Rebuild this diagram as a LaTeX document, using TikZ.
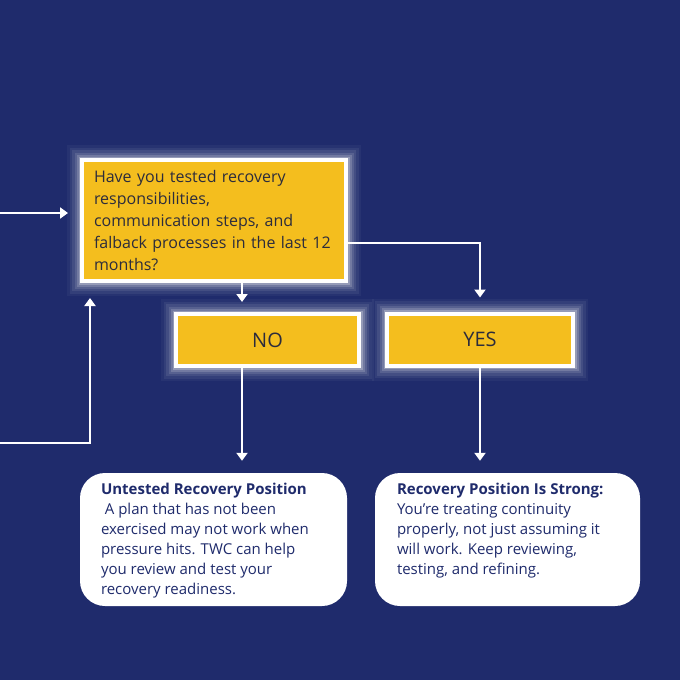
\documentclass[tikz,border=0pt]{standalone}
\usepackage{fontspec}
\setmainfont{Open Sans}
\usepackage{xcolor}
\usetikzlibrary{arrows.meta, positioning}

\definecolor{navybg}{HTML}{1F2B6C}
\definecolor{goldbox}{HTML}{F4BE1E}
\definecolor{inktext}{HTML}{2C2C3C}

\begin{document}
\begin{tikzpicture}[x=1pt, y=-1pt]
    % Styles
    \tikzset{
        glow/.style     = {preaction={draw=white, line width=30pt, opacity=0.04},
                           preaction={draw=white, line width=25pt, opacity=0.06},
                           preaction={draw=white, line width=20pt, opacity=0.08},
                           preaction={draw=white, line width=15pt, opacity=0.11},
                           preaction={draw=white, line width=11pt, opacity=0.16},
                           preaction={draw=white, line width=7pt, opacity=0.25}},
        question/.style = {rectangle, draw=white, line width=4pt, fill=goldbox, glow, text=inktext,
                           minimum width=264pt, minimum height=121pt, text width=240pt, align=left,
                           font=\fontsize{16}{22}\selectfont},
        answer/.style   = {rectangle, draw=white, line width=4pt, fill=goldbox, glow, text=inktext,
                           minimum height=52pt, font=\fontsize{20}{22}\selectfont},
        outcome/.style  = {rectangle, fill=white, rounded corners=25pt, text=navybg, inner sep=0pt,
                           minimum height=133pt, font=\fontsize{15}{20}\selectfont},
        line/.style     = {draw=white, line width=2.4pt, -{Triangle[length=8pt, width=11pt]}}
    }

    % Background
    \useasboundingbox (0,0) rectangle (680,680);
    \fill[navybg] (0,0) rectangle (680,680);

    % Question and answers
    \node [question] (q) at (214,220.5) {Have you tested recovery\\ responsibilities,\\ communication steps, and\\ falback processes in the last 12\\ months?};
    \node [answer, minimum width=183pt] (no) at (267.5,340) {NO};
    \node [answer, minimum width=186pt] (yes) at (480,339.5) {YES};

    % Outcomes
    \node [outcome, minimum width=267pt] (untested) at (213.5,539.5)
        {\parbox[c][113pt][t]{225pt}{\raggedright\textbf{Untested Recovery Position}\\
        \ A plan that has not been\\ exercised may not work when\\ pressure hits. TWC can help\\ you review and test your\\ recovery readiness.}};
    \node [outcome, minimum width=265pt] (strong) at (507.5,539.5)
        {\parbox[c][113pt][t]{221pt}{\raggedright\textbf{Recovery Position Is Strong:}\\
        You’re treating continuity\\ properly, not just assuming it\\ will work. Keep reviewing,\\ testing, and refining.}};

    % Free ends on the left edge
    \coordinate (inL) at (0,213);
    \coordinate (loopL) at (0,443);

    % Connexions
    \path [line, shorten >=12pt] (inL) -- (q.west |- inL);
    \path [line, shorten >=15pt] (loopL) -| ([xshift=-124pt]q.south);
    \path [line, shorten >=10pt] ([xshift=28pt]q.south) -- ([xshift=-25.5pt]no.north);
    \path [line, shorten >=14pt] ([yshift=-22.5pt]q.east) -| (yes.north);
    \path [line, shorten >=12pt] ([xshift=-25.5pt]no.south) -- ([xshift=28.5pt]untested.north);
    \path [line, shorten >=12pt] (yes.south) -- ([xshift=-27.5pt]strong.north);
\end{tikzpicture}
\end{document}
